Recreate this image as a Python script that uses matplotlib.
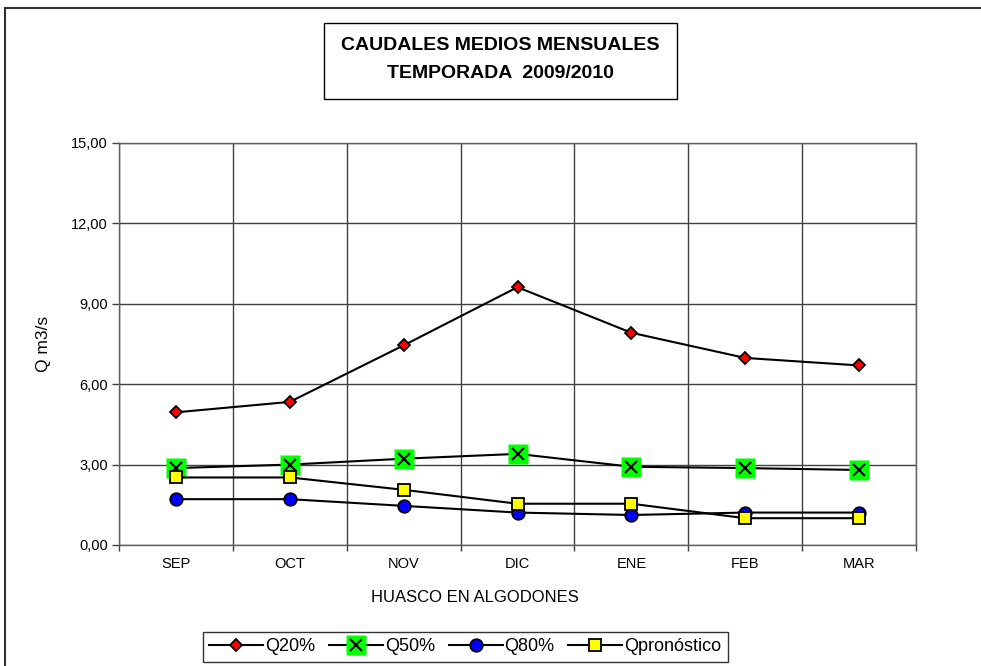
import matplotlib
matplotlib.use("Agg")
import matplotlib.pyplot as plt
from matplotlib.lines import Line2D
from matplotlib.legend_handler import HandlerTuple
from matplotlib.ticker import FixedLocator, FuncFormatter

plt.rcParams['font.family'] = ['Liberation Sans', 'DejaVu Sans']

months = ["SEP", "OCT", "NOV", "DIC", "ENE", "FEB", "MAR"]
q20 = [4.95, 5.34, 7.45, 9.62, 7.92, 6.98, 6.70]
q50 = [2.87, 3.00, 3.22, 3.40, 2.92, 2.87, 2.80]
q80 = [1.71, 1.71, 1.46, 1.21, 1.12, 1.21, 1.21]
qpron = [2.52, 2.52, 2.06, 1.54, 1.54, 1.00, 1.00]
yticks = [0, 3, 6, 9, 12, 15]

W, H = 981, 666
fig = plt.figure(figsize=(W / 100, H / 100), dpi=100)

def fx(px):
    return px / W

def fy(py):
    return 1 - py / H

ax = fig.add_axes([fx(119), fy(545), fx(916) - fx(119), fy(143) - fy(545)])
x = list(range(len(months)))

ax.plot(x, q20, color='black', lw=1.5, marker='D', ms=6, mfc='red', mec='black', mew=1.3, zorder=3)
ax.plot(x, q50, color='black', lw=1.5, zorder=3)
ax.plot(x, q50, ls='none', marker='s', ms=14.5, mfc='#00ff00', mec='none', zorder=3)
ax.plot(x, q50, ls='none', marker='x', ms=9, mec='black', mew=1.5, zorder=3)
ax.plot(x, q80, color='black', lw=1.5, marker='o', ms=9, mfc='blue', mec='black', mew=1.3, zorder=4)
ax.plot(x, qpron, color='black', lw=1.5, marker='s', ms=8.5, mfc='yellow', mec='black', mew=1.3, zorder=5)

ax.set_xlim(-0.5, len(months) - 0.5)
ax.set_ylim(0, 15)
ax.set_yticks(yticks)
ax.yaxis.set_major_formatter(FuncFormatter(lambda v, p: f"{v:.2f}".replace('.', ',')))
ax.xaxis.set_major_locator(FixedLocator([i + 0.5 for i in range(-1, len(months))]))
ax.xaxis.set_major_formatter(FuncFormatter(lambda v, p: ""))
ax.xaxis.set_minor_locator(FixedLocator(x))
ax.set_xticklabels(months, minor=True)
ax.tick_params(axis='x', which='minor', length=0, pad=9, labelsize=10.5)
ax.tick_params(axis='x', which='major', length=4, width=1, color='#404040', direction='out')
ax.tick_params(axis='y', length=5, width=1, color='#404040', direction='out', labelsize=10.5, pad=3)
ax.grid(True, which='major', color='#404040', lw=1)
for s in ax.spines.values():
    s.set_color('#606060')
    s.set_linewidth(1)

ax.set_ylabel("Q m3/s", fontsize=12.5)
ax.yaxis.set_label_coords(-0.0857, 0.5)

fig.text(fx(475), fy(597), "HUASCO EN ALGODONES", fontsize=12, ha='center', va='center')

# Title box
fig.patches.append(plt.Rectangle((fx(324), fy(99)), fx(677) - fx(324), fy(23) - fy(99),
                                 transform=fig.transFigure, fill=False, ec='black', lw=1))
fig.text(fx(500.5), fy(46), "CAUDALES MEDIOS MENSUALES", fontsize=14, weight='bold', ha='center', va='center')
fig.text(fx(500.5), fy(74), "TEMPORADA  2009/2010", fontsize=14, weight='bold', ha='center', va='center')

# Outer frame (top and left visible)
fig.add_artist(Line2D([fx(5), 1.0], [fy(8), fy(8)], transform=fig.transFigure, color='#303030', lw=1.5))
fig.add_artist(Line2D([fx(5), fx(5)], [fy(8), 0.0], transform=fig.transFigure, color='#303030', lw=1.5))

# Legend
h20 = Line2D([], [], color='black', lw=1.5, marker='D', ms=6, mfc='red', mec='black', mew=1.3)
h50a = Line2D([], [], color='black', lw=1.5, marker='s', ms=14.5, mfc='#00ff00', mec='none')
h50b = Line2D([], [], ls='none', marker='x', ms=9, mec='black', mew=1.5)
h80 = Line2D([], [], color='black', lw=1.5, marker='o', ms=9, mfc='blue', mec='black', mew=1.3)
hp = Line2D([], [], color='black', lw=1.5, marker='s', ms=8.5, mfc='yellow', mec='black', mew=1.3)
leg = fig.legend([h20, (h50a, h50b), h80, hp], ["Q20%", "Q50%", "Q80%", "Qpronóstico"],
                 handler_map={tuple: HandlerTuple(ndivide=1)},
                 loc='upper left', bbox_to_anchor=(fx(203), fy(632)), ncol=4, fontsize=13,
                 frameon=True, fancybox=False, edgecolor='black', handlelength=3.0,
                 handletextpad=0.1, columnspacing=0.75, borderpad=0.35, borderaxespad=0)
leg.get_frame().set_linewidth(1)

fig.savefig("out.png", dpi=100)
